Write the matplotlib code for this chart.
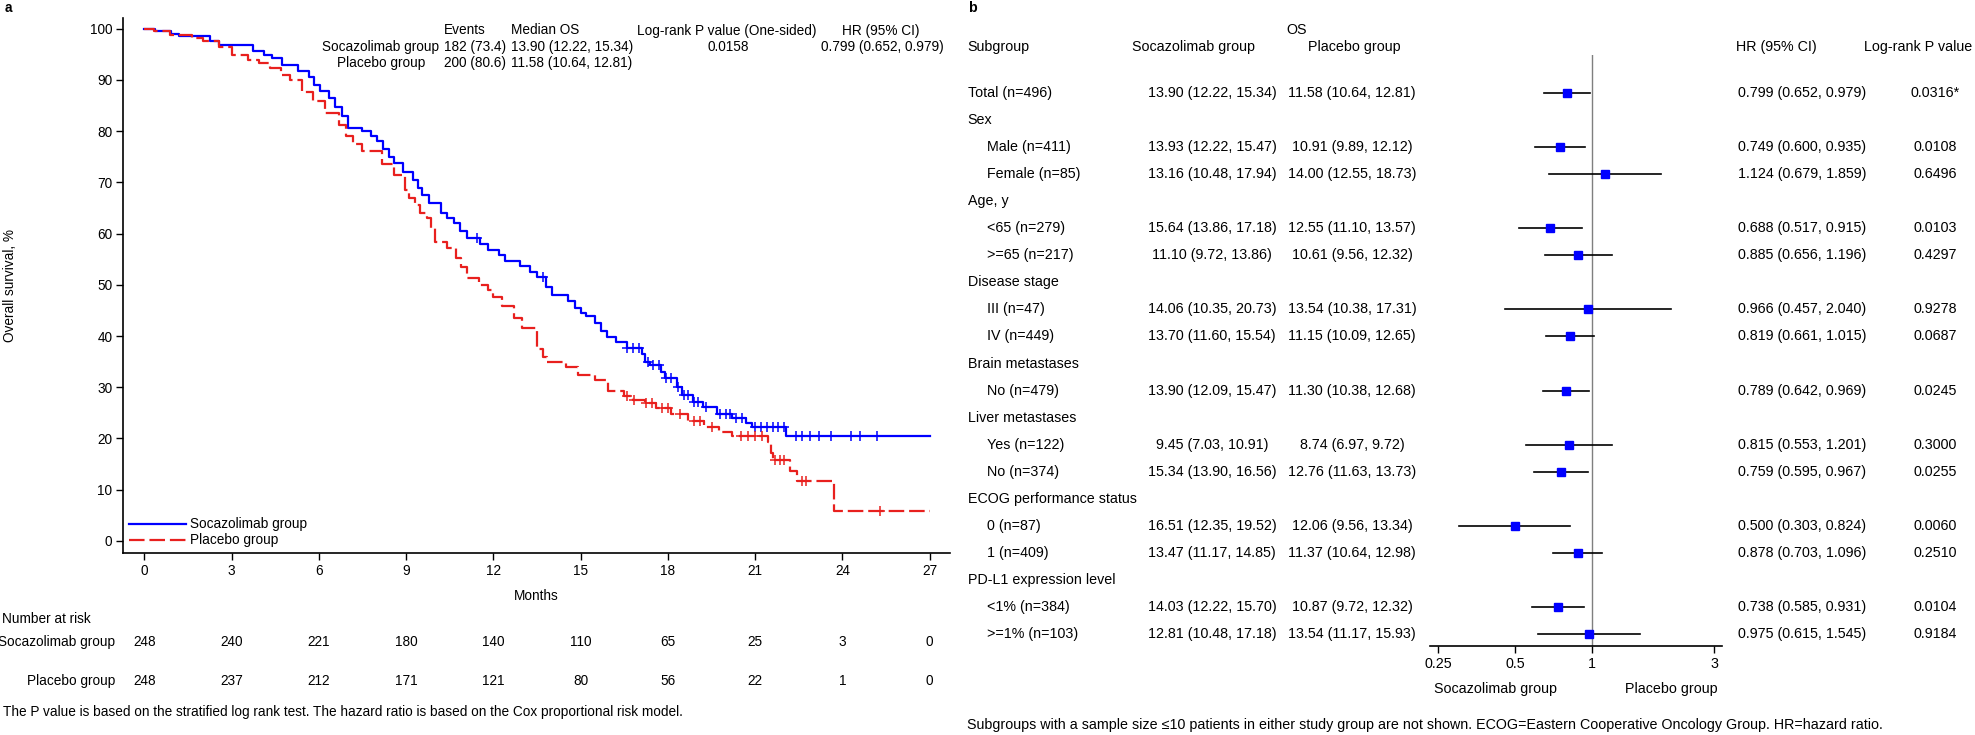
import numpy as np
import matplotlib
matplotlib.use("Agg")
import matplotlib.pyplot as plt
from matplotlib import transforms
from matplotlib.lines import Line2D

plt.rcParams['font.family'] = ['Liberation Sans', 'DejaVu Sans']

# ---------------- data: Kaplan-Meier (panel a) ----------------
soc_t = [0, 0.35, 0.9, 1.2, 2.26, 2.56, 3.75, 4.1, 4.4, 4.75, 5.3, 5.65, 5.85, 6.05, 6.35,
         6.55, 6.8, 7.0, 7.5, 7.8, 8.0, 8.2, 8.4, 8.6, 8.9, 9.25, 9.4, 9.55, 9.8, 10.2, 10.4,
         10.65, 10.87, 11.1, 11.55, 11.8, 12.2, 12.4, 12.9, 13.25, 13.5, 13.8, 14.0, 14.55,
         14.8, 15.0, 15.2, 15.5, 15.7, 15.9, 16.2, 16.6, 17.1, 17.2, 17.4, 17.75, 17.9, 18.3,
         18.5, 18.85, 19.2, 19.7, 20.2, 20.7, 20.9, 22.05, 27.0]
soc_s = [100, 99.5, 99.0, 98.6, 97.6, 96.8, 95.6, 94.8, 94.2, 93.0, 91.8, 90.5, 89.0, 87.8, 86.5,
         84.8, 83.0, 80.7, 80.0, 79.0, 78.0, 76.5, 75.0, 73.8, 72.1, 70.5, 69.0, 67.5, 66.0, 64.0, 63.0,
         62.1, 60.5, 59.2, 58.0, 56.8, 55.8, 54.6, 53.6, 52.5, 51.6, 49.5, 48.0, 46.8,
         45.5, 44.5, 44.0, 42.5, 41.0, 39.9, 38.8, 37.7, 36.5, 35.0, 34.4, 33.0, 31.8, 30.0,
         28.5, 27.2, 26.2, 24.8, 24.0, 23.0, 22.3, 20.5, 20.5]
soc_cens = [11.45, 13.7, 16.6, 16.8, 17.0, 17.3, 17.5, 17.7, 17.95, 18.1, 18.35, 18.55, 18.7,
            18.9, 19.05, 19.3, 19.8, 20.0, 20.15, 20.35, 20.55, 21.0, 21.2, 21.4, 21.6, 21.8,
            22.0, 22.4, 22.6, 22.9, 23.2, 23.6, 24.3, 24.6, 25.2]

pla_t = [0, 0.33, 0.87, 1.64, 2.0, 2.56, 3.0, 3.56, 3.94, 4.32, 4.7, 5.0, 5.42, 5.8, 6.2, 6.7,
         6.95, 7.19, 7.48, 8.17, 8.57, 8.95, 9.1, 9.3, 9.48, 9.72, 9.85, 10.0, 10.4, 10.7, 10.9,
         11.1, 11.5, 11.8, 12.0, 12.3, 12.7, 13.0, 13.5, 13.7, 13.85, 14.5, 14.9, 15.5, 15.95,
         16.5, 16.8, 17.2, 17.6, 18.1, 18.7, 19.25, 19.75, 20.2, 21.45, 21.55, 21.62, 22.2,
         22.45, 23.7, 27.0]
pla_s = [100, 99.5, 98.8, 98.2, 97.7, 96.5, 94.9, 93.9, 93.3, 92.3, 91.0, 90.0, 87.6, 85.9, 83.6, 81.3,
         79.0, 77.5, 76.2, 73.5, 71.5, 68.5, 67.0, 65.5, 64.0, 63.0, 61.0, 58.4, 57.2, 55.2, 53.5,
         51.3, 50.0, 49.0, 47.7, 45.8, 43.5, 41.6, 37.5, 36.0, 35.0, 34.0, 32.4, 31.4, 29.2,
         28.2, 27.5, 27.0, 26.0, 24.8, 23.5, 22.3, 21.2, 20.5, 19.4, 17.2, 15.8, 13.6,
         11.7, 5.9, 5.9]
pla_cens = [16.6, 16.85, 17.25, 17.45, 17.8, 18.0, 18.4, 18.9, 19.1, 19.5, 20.5, 20.75, 21.0,
            21.25, 21.7, 21.85, 22.0, 22.6, 22.75, 25.3]

risk_times = [0, 3, 6, 9, 12, 15, 18, 21, 24, 27]
risk_soc = [248, 240, 221, 180, 140, 110, 65, 25, 3, 0]
risk_pla = [248, 237, 212, 171, 121, 80, 56, 22, 1, 0]

groups = ["Socazolimab group", "Placebo group"]
events = ["182 (73.4)", "200 (80.6)"]
median_os = ["13.90 (12.22, 15.34)", "11.58 (10.64, 12.81)"]
overall_p = "0.0158"
overall_hr = "0.799 (0.652, 0.979)"

# ---------------- data: forest plot (panel b) ----------------
sub_labels = ["Total (n=496)", "Sex", "Male (n=411)", "Female (n=85)", "Age, y", "<65 (n=279)",
              ">=65 (n=217)", "Disease stage", "III (n=47)", "IV (n=449)", "Brain metastases",
              "No (n=479)", "Liver metastases", "Yes (n=122)", "No (n=374)",
              "ECOG performance status", "0 (n=87)", "1 (n=409)", "PD-L1 expression level",
              "<1% (n=384)", ">=1% (n=103)"]
sub_indent = [0, 0, 1, 1, 0, 1, 1, 0, 1, 1, 0, 1, 0, 1, 1, 0, 1, 1, 0, 1, 1]
soc_os = ["13.90 (12.22, 15.34)", "", "13.93 (12.22, 15.47)", "13.16 (10.48, 17.94)", "",
          "15.64 (13.86, 17.18)", "11.10 (9.72, 13.86)", "", "14.06 (10.35, 20.73)",
          "13.70 (11.60, 15.54)", "", "13.90 (12.09, 15.47)", "", "9.45 (7.03, 10.91)",
          "15.34 (13.90, 16.56)", "", "16.51 (12.35, 19.52)", "13.47 (11.17, 14.85)", "",
          "14.03 (12.22, 15.70)", "12.81 (10.48, 17.18)"]
pla_os = ["11.58 (10.64, 12.81)", "", "10.91 (9.89, 12.12)", "14.00 (12.55, 18.73)", "",
          "12.55 (11.10, 13.57)", "10.61 (9.56, 12.32)", "", "13.54 (10.38, 17.31)",
          "11.15 (10.09, 12.65)", "", "11.30 (10.38, 12.68)", "", "8.74 (6.97, 9.72)",
          "12.76 (11.63, 13.73)", "", "12.06 (9.56, 13.34)", "11.37 (10.64, 12.98)", "",
          "10.87 (9.72, 12.32)", "13.54 (11.17, 15.93)"]
hr = [0.799, None, 0.749, 1.124, None, 0.688, 0.885, None, 0.966, 0.819, None, 0.789, None,
      0.815, 0.759, None, 0.500, 0.878, None, 0.738, 0.975]
hr_lo = [0.652, None, 0.600, 0.679, None, 0.517, 0.656, None, 0.457, 0.661, None, 0.642, None,
         0.553, 0.595, None, 0.303, 0.703, None, 0.585, 0.615]
hr_hi = [0.979, None, 0.935, 1.859, None, 0.915, 1.196, None, 2.040, 1.015, None, 0.969, None,
         1.201, 0.967, None, 0.824, 1.096, None, 0.931, 1.545]
pvals = ["0.0316*", "", "0.0108", "0.6496", "", "0.0103", "0.4297", "", "0.9278", "0.0687", "",
         "0.0245", "", "0.3000", "0.0255", "", "0.0060", "0.2510", "", "0.0104", "0.9184"]
forest_ticks = [0.25, 0.5, 1, 3]

# ---------------- figure ----------------
W, H = 1975, 735
fig = plt.figure(figsize=(W / 100, H / 100), dpi=100)
def fx(x): return x / W
def fy(y): return 1 - y / H

FS_L = 9.8
FS_R = 10.3
BLUE = '#0000ff'
RED = '#e8201e'
DASH = (0, (7, 2.2))

# ---- panel a ----
axL = fig.add_axes([fx(123.4), fy(552.7), (950 - 123.4) / W, (552.7 - 18) / H])
axL.step(soc_t, soc_s, where='post', color=BLUE, lw=1.6)
axL.step(pla_t, pla_s, where='post', color=RED, lw=1.6, linestyle=DASH)

def surv_at(t, s, c):
    idx = np.searchsorted(np.array(t), np.array(c), side='right') - 1
    return np.array(s)[idx]
axL.plot(soc_cens, surv_at(soc_t, soc_s, soc_cens), linestyle='none', marker='+',
         color=BLUE, ms=7, mew=1.1)
axL.plot(pla_cens, surv_at(pla_t, pla_s, pla_cens), linestyle='none', marker='+',
         color=RED, ms=7, mew=1.1)

axL.set_xlim(-0.72, 27.7)
axL.set_ylim(-2.3, 102.1)
axL.set_xticks(risk_times)
axL.set_yticks(np.arange(0, 101, 10))
for sp in ['top', 'right']:
    axL.spines[sp].set_visible(False)
for sp in ['left', 'bottom']:
    axL.spines[sp].set_linewidth(1.2)
axL.tick_params(axis='both', labelsize=FS_L, length=5, width=1.0, pad=3)
axL.set_xlabel("Months", fontsize=FS_L)
axL.xaxis.labelpad = 8
axL.set_ylabel("Overall survival, %", fontsize=FS_L)
axL.yaxis.set_label_coords((17 - 123.4) / (950 - 123.4), 0.5)

handles = [Line2D([], [], color=BLUE, lw=1.6),
           Line2D([], [], color=RED, lw=1.6, linestyle=DASH)]
axL.legend(handles, groups, loc='lower left', frameon=False, fontsize=FS_L,
           handlelength=4.2, handletextpad=0.3, labelspacing=0.15, borderpad=0,
           borderaxespad=0, bbox_to_anchor=(0.0068, 0.01))

# header table of panel a
fig.text(fx(5), fy(8), "a", fontsize=FS_L, fontweight='bold', ha='left', va='center')
fig.text(fx(444), fy(30.5), "Events", fontsize=FS_L, ha='left', va='center')
fig.text(fx(511), fy(30.5), "Median OS", fontsize=FS_L, ha='left', va='center')
fig.text(fx(727), fy(30.5), "Log-rank P value (One-sided)", fontsize=FS_L, ha='center', va='center')
fig.text(fx(881), fy(30.5), "HR (95% CI)", fontsize=FS_L, ha='center', va='center')
row_y = [47, 63.5]
for i in range(2):
    fig.text(fx(381), fy(row_y[i]), groups[i], fontsize=FS_L, ha='center', va='center')
    fig.text(fx(444), fy(row_y[i]), events[i], fontsize=FS_L, ha='left', va='center')
    fig.text(fx(511), fy(row_y[i]), median_os[i], fontsize=FS_L, ha='left', va='center')
fig.text(fx(728), fy(47), overall_p, fontsize=FS_L, ha='center', va='center')
fig.text(fx(882), fy(47), overall_hr, fontsize=FS_L, ha='center', va='center')

# number at risk table
bt = transforms.blended_transform_factory(axL.transData, fig.transFigure)
fig.text(fx(2.5), fy(619), "Number at risk", fontsize=FS_L, ha='left', va='center')
for yy, lab, vals in [(641.7, groups[0], risk_soc), (681, groups[1], risk_pla)]:
    fig.text(fx(115), fy(yy), lab, fontsize=FS_L, ha='right', va='center')
    for t, v in zip(risk_times, vals):
        axL.text(t, fy(yy), str(v), transform=bt, fontsize=FS_L, ha='center', va='center',
                 clip_on=False)
fig.text(fx(3), fy(711.7), "The P value is based on the stratified log rank test. The hazard ratio "
         "is based on the Cox proportional risk model.", fontsize=FS_L, ha='left', va='center')

# ---- panel b ----
n = len(sub_labels)
row_px = 27.05
y_top = (55 - 93) / row_px
y_bot = (646 - 93) / row_px
axF = fig.add_axes([fx(1430), fy(646), (1722 - 1430) / W, (646 - 55) / H])
axF.set_xscale('log')
axF.set_xlim(0.2327, 3.222)
axF.set_ylim(y_bot, y_top)
axF.axvline(1, color='#7f7f7f', lw=1.0, zorder=1)
for i in range(n):
    if hr[i] is None:
        continue
    axF.plot([hr_lo[i], hr_hi[i]], [i, i], color='black', lw=1.2, zorder=2)
    axF.plot([hr[i]], [i], marker='s', color=BLUE, ms=6, linestyle='none', zorder=3)
for sp in ['top', 'right', 'left']:
    axF.spines[sp].set_visible(False)
axF.spines['bottom'].set_linewidth(1.2)
axF.set_yticks([])
axF.set_xticks(forest_ticks)
axF.set_xticklabels([str(t) for t in forest_ticks])
axF.xaxis.set_minor_locator(matplotlib.ticker.NullLocator())
axF.tick_params(axis='x', labelsize=FS_R, length=5, width=1.0, pad=3)

fig.text(fx(968), fy(8), "b", fontsize=FS_R, fontweight='bold', ha='left', va='center')
fig.text(fx(1297), fy(30), "OS", fontsize=FS_R, ha='center', va='center')
fig.text(fx(967), fy(47), "Subgroup", fontsize=FS_R, ha='left', va='center')
fig.text(fx(1193), fy(47), "Socazolimab group", fontsize=FS_R, ha='center', va='center')
fig.text(fx(1354), fy(47), "Placebo group", fontsize=FS_R, ha='center', va='center')
fig.text(fx(1736), fy(47), "HR (95% CI)", fontsize=FS_R, ha='left', va='center')
fig.text(fx(1918), fy(47), "Log-rank P value", fontsize=FS_R, ha='center', va='center')

bf = transforms.blended_transform_factory(fig.transFigure, axF.transData)
for i in range(n):
    xlab = 987 if sub_indent[i] else 967.5
    axF.text(fx(xlab), i, sub_labels[i], transform=bf, fontsize=FS_R, ha='left', va='center',
             clip_on=False)
    if soc_os[i]:
        axF.text(fx(1212), i, soc_os[i], transform=bf, fontsize=FS_R, ha='center', va='center',
                 clip_on=False)
        axF.text(fx(1352), i, pla_os[i], transform=bf, fontsize=FS_R, ha='center', va='center',
                 clip_on=False)
    if hr[i] is not None:
        axF.text(fx(1738), i, f"{hr[i]:.3f} ({hr_lo[i]:.3f}, {hr_hi[i]:.3f})", transform=bf,
                 fontsize=FS_R, ha='left', va='center', clip_on=False)
        axF.text(fx(1935), i, pvals[i], transform=bf, fontsize=FS_R, ha='center', va='center',
                 clip_on=False)

fig.text(fx(1496), fy(689), "Socazolimab group", fontsize=FS_R, ha='center', va='center')
fig.text(fx(1671.5), fy(689), "Placebo group", fontsize=FS_R, ha='center', va='center')
fig.text(fx(967), fy(725), "Subgroups with a sample size \u226410 patients in either study group are "
         "not shown. ECOG=Eastern Cooperative Oncology Group. HR=hazard ratio.",
         fontsize=FS_R, ha='left', va='center')

fig.savefig("out.png", dpi=100)
